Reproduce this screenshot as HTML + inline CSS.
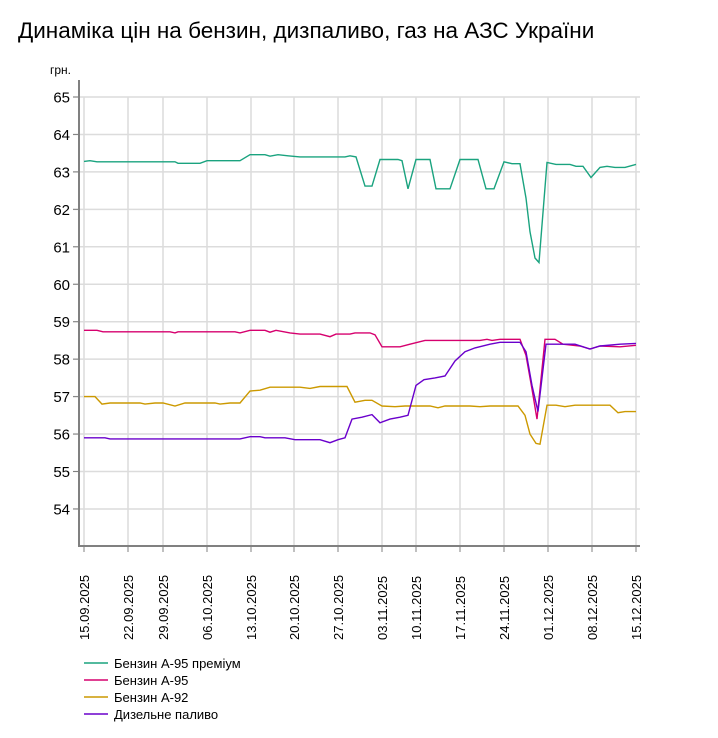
<!DOCTYPE html>
<html><head><meta charset="utf-8"><style>
body{margin:0;background:#fff;}
svg{display:block;font-family:"Liberation Sans",Arial,sans-serif;}
</style></head><body>
<svg id="s" width="718" height="738" xmlns="http://www.w3.org/2000/svg">
<text x="18" y="38" font-size="22.5" fill="#000">Динаміка цін на бензин, дизпаливо, газ на АЗС України</text>
<text x="50" y="74" font-size="12" fill="#000">грн.</text>
<g id="grid"></g>
<line x1="79" y1="80" x2="79" y2="546" stroke="#808080" stroke-width="2"/>
<line x1="78" y1="546" x2="640" y2="546" stroke="#808080" stroke-width="2"/>
<g id="ser" fill="none" stroke-width="1.4"></g>
<g font-size="13" fill="#000">
<line x1="84" y1="663" x2="108" y2="663" stroke="#1aa37f" stroke-width="1.5"/><text x="114" y="668">Бензин А-95 преміум</text>
<line x1="84" y1="680" x2="108" y2="680" stroke="#d6006e" stroke-width="1.5"/><text x="114" y="685">Бензин А-95</text>
<line x1="84" y1="697" x2="108" y2="697" stroke="#cc9900" stroke-width="1.5"/><text x="114" y="702">Бензин А-92</text>
<line x1="84" y1="714" x2="108" y2="714" stroke="#6a00cc" stroke-width="1.5"/><text x="114" y="719">Дизельне паливо</text>
</g>
</svg>
<script>
const NS="http://www.w3.org/2000/svg";
const Y=v=>97+(65-v)*37.45;
const g=document.getElementById('grid');
function el(p,t,a,txt){const e=document.createElementNS(NS,t);for(const k in a)e.setAttribute(k,a[k]);if(txt)e.textContent=txt;p.appendChild(e);return e;}
for(let v=54;v<=65;v++){const y=Y(v);el(g,'line',{x1:73,x2:640,y1:y,y2:y,stroke:'#dcdcdc','stroke-width':1.5});el(g,'line',{x1:73,x2:79,y1:y,y2:y,stroke:'#808080'});el(g,'text',{x:70,y:y+5.5,'font-size':15,'text-anchor':'end'},v);}
const xs=[84,128,163,207,251,294,338,382,416,460,504,548,592,636];
const lb=["15.09.2025","22.09.2025","29.09.2025","06.10.2025","13.10.2025","20.10.2025","27.10.2025","03.11.2025","10.11.2025","17.11.2025","24.11.2025","01.12.2025","08.12.2025","15.12.2025"];
xs.forEach((x,i)=>{el(g,'line',{x1:x,x2:x,y1:97,y2:546,stroke:'#dcdcdc','stroke-width':1.5});el(g,'line',{x1:x,x2:x,y1:546,y2:552,stroke:'#808080'});el(g,'text',{transform:`translate(${x+5},640) rotate(-90)`,'font-size':13},lb[i]);});
const D={
"#1aa37f":[84,63.28,90,63.3,97,63.27,175,63.27,178,63.23,200,63.23,207,63.3,240,63.3,250,63.46,265,63.46,270,63.42,278,63.46,288,63.43,300,63.4,345,63.4,350,63.43,356,63.4,365,62.62,372,62.62,380,63.33,398,63.33,402,63.3,408,62.55,416,63.33,430,63.33,436,62.55,450,62.55,460,63.33,478,63.33,486,62.55,494,62.55,504,63.27,512,63.22,520,63.22,526,62.3,530,61.4,535,60.7,539,60.58,547,63.25,556,63.2,570,63.2,576,63.15,583,63.15,591,62.85,600,63.12,607,63.15,615,63.12,625,63.12,636,63.2],
"#d6006e":[84,58.77,97,58.77,103,58.73,170,58.73,175,58.7,178,58.73,235,58.73,240,58.7,250,58.77,265,58.77,270,58.72,276,58.77,290,58.7,300,58.67,320,58.67,330,58.6,336,58.67,350,58.67,355,58.7,370,58.7,375,58.65,382,58.33,400,58.33,410,58.4,425,58.5,480,58.5,487,58.53,492,58.5,500,58.53,520,58.53,526,58.1,532,57.2,537,56.4,545,58.53,555,58.53,563,58.4,580,58.35,590,58.27,600,58.35,620,58.33,636,58.37],
"#cc9900":[84,57.0,95,57.0,102,56.8,110,56.83,140,56.83,145,56.8,155,56.83,163,56.83,175,56.75,185,56.83,215,56.83,220,56.8,230,56.83,240,56.83,250,57.15,260,57.17,270,57.25,300,57.25,310,57.22,320,57.27,347,57.27,355,56.85,365,56.9,372,56.9,382,56.75,395,56.73,405,56.75,430,56.75,438,56.7,445,56.75,470,56.75,480,56.73,490,56.75,518,56.75,525,56.5,530,56.0,536,55.75,540,55.73,547,56.77,556,56.77,565,56.73,575,56.77,610,56.77,618,56.57,625,56.6,636,56.6],
"#6a00cc":[84,55.9,105,55.9,110,55.87,240,55.87,250,55.93,260,55.93,265,55.9,285,55.9,295,55.85,320,55.85,330,55.77,338,55.85,345,55.9,352,56.4,362,56.45,372,56.52,380,56.3,390,56.4,400,56.45,408,56.5,416,57.3,424,57.45,435,57.5,445,57.55,455,57.95,465,58.2,475,58.3,490,58.4,500,58.45,520,58.45,526,58.2,532,57.3,538,56.6,546,58.4,560,58.4,575,58.4,590,58.27,600,58.35,620,58.4,636,58.42]};
const s=document.getElementById('ser');
for(const c in D){const a=D[c];let p=[];for(let i=0;i<a.length;i+=2)p.push(a[i]+','+Y(a[i+1]).toFixed(1));el(s,'polyline',{points:p.join(' '),stroke:c});}
</script>
</body></html>
